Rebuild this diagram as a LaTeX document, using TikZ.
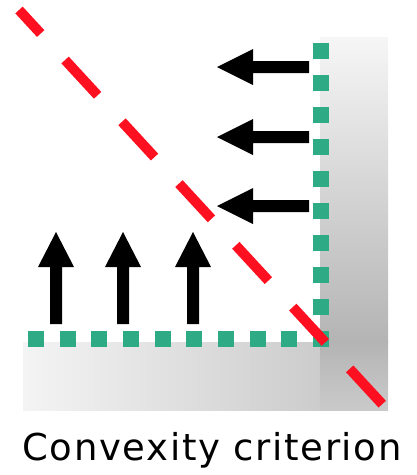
\documentclass[tikz,border=0pt]{standalone}
\usepackage{fontspec}
\setmainfont{DejaVu Sans}
\definecolor{dotgreen}{RGB}{46,170,132}
\definecolor{cutred}{RGB}{255,16,32}
\definecolor{wallA}{RGB}{246,246,246}
\definecolor{wallB}{RGB}{180,180,180}
\definecolor{wallC}{RGB}{202,202,202}
\definecolor{wallD}{RGB}{244,244,244}
\definecolor{wallE}{RGB}{204,204,204}
\tikzset{
  greendot/.style={fill=dotgreen},
  cutline/.style={draw=cutred, line width=10pt, dash pattern=on 48pt off 36pt, dash phase=16pt},
  forcearrow/.style={fill=black},
}
\begin{document}
\begin{tikzpicture}[x=1pt,y=-1pt]
\useasboundingbox (0,0) rectangle (416,475);
% gray walls
\shade[left color=wallD, right color=wallE] (23,342) rectangle (320,410);
\shade[top color=wallA, bottom color=wallB] (320,37) rectangle (388,342);
\shade[top color=wallB, bottom color=wallC] (320,341.5) rectangle (388,410);
% green dotted boundary
\foreach \i in {0,...,9} {
  \fill[greendot] ({36+31.67*\i-8},330.5) rectangle ++(16,16);
  \fill[greendot] (313,{50.7+32*\i-8}) rectangle ++(16,16);
}
% up arrows
\foreach \c in {56,123,193} {
  \fill[forcearrow] (\c-6,324) -- (\c-6,267) -- (\c-18,267) -- (\c,232) -- (\c+18,267) -- (\c+6,267) -- (\c+6,324) -- cycle;
}
% left arrows
\foreach \c in {67,137,206} {
  \fill[forcearrow] (309,\c-6) -- (253,\c-6) -- (253,\c-18) -- (217,\c) -- (253,\c+18) -- (253,\c+6) -- (309,\c+6) -- cycle;
}
% red dashed line
\coordinate (cA) at (19,10);
\coordinate (cB) at (383,405);
\draw[cutline] (cA) -- (cB);
% caption
\node[anchor=base, inner sep=0pt, font=\fontsize{37}{44}\selectfont\addfontfeature{LetterSpace=4.5}] (cap) at (212,460) {Convexity criterion};
\end{tikzpicture}
\end{document}
